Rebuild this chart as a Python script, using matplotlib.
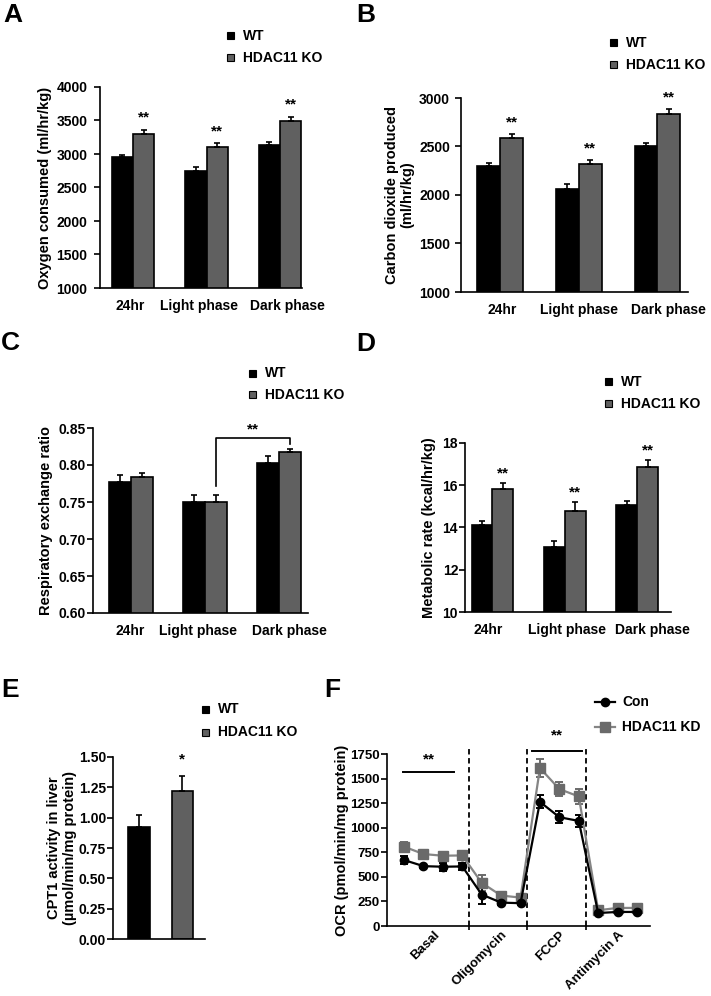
import matplotlib
matplotlib.use("Agg")
import matplotlib.pyplot as plt
import matplotlib.transforms as mtransforms
import numpy as np
from matplotlib.patches import Rectangle
from matplotlib.lines import Line2D

plt.rcParams['font.family'] = ['Liberation Sans', 'DejaVu Sans']
plt.rcParams['font.weight'] = 'bold'
plt.rcParams['axes.labelweight'] = 'bold'
plt.rcParams['axes.linewidth'] = 1.2

# ---- data ----
groups = ['24hr', 'Light phase', 'Dark phase']

o2_wt = [2950, 2750, 3132]
o2_wt_err = [35, 50, 40]
o2_ko = [3305, 3102, 3494]
o2_ko_err = [60, 55, 65]

co2_wt = [2296, 2065, 2502]
co2_wt_err = [34, 50, 38]
co2_ko = [2591, 2323, 2838]
co2_ko_err = [41, 41, 50]

rer_wt = [0.777, 0.750, 0.8025]
rer_wt_err = [0.010, 0.010, 0.010]
rer_ko = [0.784, 0.750, 0.817]
rer_ko_err = [0.005, 0.009, 0.005]

mr_wt = [14.11, 13.10, 15.06]
mr_wt_err = [0.19, 0.24, 0.19]
mr_ko = [15.83, 14.76, 16.87]
mr_ko_err = [0.30, 0.44, 0.32]

cpt1 = [0.925, 1.22]
cpt1_err = [0.10, 0.12]

ocr_steps = ['Basal', 'Oligomycin', 'FCCP', 'Antimycin A']
ocr_step_n = [4, 3, 3, 3]
ocr_con = [671, 609, 603, 606, 320, 238, 232, 1263, 1107, 1069, 132, 143, 143]
ocr_con_err = [40, 15, 40, 35, 100, 25, 20, 65, 60, 60, 15, 12, 12]
ocr_kd = [807, 732, 715, 718, 439, 310, 289, 1607, 1393, 1318, 160, 184, 184]
ocr_kd_err = [50, 30, 40, 35, 80, 25, 20, 95, 75, 80, 20, 15, 15]

WT_C = 'black'
KO_C = '#606060'
KD_LINE = '#858585'
KD_MARK = '#6a6a6a'

W, H = 711, 996
fig = plt.figure(figsize=(W / 100, H / 100), dpi=100)


def px_axes(x0, y0, x1, y1):
    return fig.add_axes([x0 / W, 1 - y1 / H, (x1 - x0) / W, (y1 - y0) / H])


def style(ax, ypad=2, ysize=10):
    for s in ['top', 'right']:
        ax.spines[s].set_visible(False)
    ax.tick_params(axis='y', direction='out', length=4, width=1.2, labelsize=ysize, pad=ypad)
    ax.tick_params(axis='x', length=0, labelsize=10, pad=8)


def shift_xlabels(ax, shifts_px):
    # nudge category labels sideways (the original spreads them apart)
    for lab, dx in zip(ax.get_xticklabels(), shifts_px):
        off = mtransforms.ScaledTranslation(dx / 100, 0, fig.dpi_scale_trans)
        lab.set_transform(lab.get_transform() + off)


def square_key(x, y, labels, colors, dy):
    for i, (lab, c) in enumerate(zip(labels, colors)):
        yy = y + i * dy
        fig.add_artist(Rectangle(((x - 3.5) / W, 1 - (yy + 3.5) / H), 7 / W, 7 / H,
                                 transform=fig.transFigure, facecolor=c,
                                 edgecolor='black', lw=0.8))
        fig.text((x + 13) / W, 1 - yy / H, lab, fontsize=10, va='center', ha='left')


def letter(x, y, s):
    fig.text(x / W, 1 - y / H, s, fontsize=19, fontweight='bold', va='center')


def bar_panel(ax, wt, wt_err, ko, ko_err, width, xlim, ylim, yticks, fmt, ylabel,
              labelpad, ypad, shifts):
    x = np.arange(len(wt))
    ek = dict(ecolor='black', elinewidth=1.2, capthick=1.2)
    ax.bar(x - width / 2, wt, width, color=WT_C, edgecolor='black', lw=1.2,
           yerr=[np.zeros(len(wt)), wt_err], capsize=2.5, error_kw=ek)
    ax.bar(x + width / 2, ko, width, color=KO_C, edgecolor='black', lw=1.2,
           yerr=[np.zeros(len(ko)), ko_err], capsize=2.5, error_kw=ek)
    ax.set_xlim(*xlim)
    ax.set_ylim(*ylim)
    ax.set_yticks(yticks)
    ax.set_yticklabels([fmt.format(v) for v in yticks])
    ax.set_xticks(x)
    ax.set_xticklabels(groups)
    ax.set_ylabel(ylabel, fontsize=10.5, labelpad=labelpad)
    style(ax, ypad=ypad)
    shift_xlabels(ax, shifts)
    return x


def stars(ax, xs, tops, off, txt='**'):
    for xx, t in zip(xs, tops):
        ax.text(xx, t + off, txt, ha='center', va='center', fontsize=11, fontweight='bold')


# ---- A ----
axA = px_axes(100, 87, 302, 288)
w = 0.29
x = bar_panel(axA, o2_wt, o2_wt_err, o2_ko, o2_ko_err, w, (-0.45, 2.30), (1000, 4000),
              [1000, 1500, 2000, 2500, 3000, 3500, 4000], '{:d}',
              'Oxygen consumed (ml/hr/kg)', 3, 5, [-3, -8, 7])
stars(axA, x + w / 2, np.add(o2_ko, o2_ko_err), 180)
square_key(230, 36, ['WT', 'HDAC11 KO'], [WT_C, KO_C], 22)
letter(3, 15, 'A')

# ---- B ----
axB = px_axes(461, 98, 688, 292)
w = 0.29
x = bar_panel(axB, co2_wt, co2_wt_err, co2_ko, co2_ko_err, w, (-0.50, 2.39), (1000, 3000),
              [1000, 1500, 2000, 2500, 3000], '{:d}', 'Carbon dioxide produced\n(ml/hr/kg)',
              3, 4, [2, 0, 11])
stars(axB, x + w / 2, np.add(co2_ko, co2_ko_err), 115)
square_key(613, 43, ['WT', 'HDAC11 KO'], [WT_C, KO_C], 22)
letter(356, 15, 'B')

# ---- C ----
axC = px_axes(93, 428, 308, 613)
w = 0.30
x = bar_panel(axC, rer_wt, rer_wt_err, rer_ko, rer_ko_err, w, (-0.51, 2.39), (0.60, 0.85),
              [0.60, 0.65, 0.70, 0.75, 0.80, 0.85], '{:.2f}', 'Respiratory exchange ratio',
              4, 1, [-1, -7, 10])
bx0, bx1 = x[1] + w / 2, x[2] + w / 2
axC.plot([bx0, bx0, bx1, bx1],
         [rer_ko[1] + rer_ko_err[1] + 0.013, 0.837, 0.837, rer_ko[2] + rer_ko_err[2] + 0.006],
         color='black', lw=1.2, clip_on=False)
axC.text((bx0 + bx1) / 2, 0.848, '**', ha='center', va='center', fontsize=11,
         fontweight='bold')
square_key(252, 373, ['WT', 'HDAC11 KO'], [WT_C, KO_C], 22)
letter(1, 343, 'C')

# ---- D ----
axD = px_axes(465, 443, 671, 612)
w = 0.29
x = bar_panel(axD, mr_wt, mr_wt_err, mr_ko, mr_ko_err, w, (-0.38, 2.47), (10, 18),
              [10, 12, 14, 16, 18], '{:d}', 'Metabolic rate (kcal/hr/kg)', 5, 1,
              [-4, 2, 15])
stars(axD, x + w / 2, np.add(mr_ko, mr_ko_err), 0.45)
square_key(608, 382, ['WT', 'HDAC11 KO'], [WT_C, KO_C], 22)
letter(356, 344, 'D')

# ---- E ----
axE = px_axes(113, 757, 205, 939)
xe = np.arange(2)
ek = dict(ecolor='black', elinewidth=1.2, capthick=1.2)
axE.bar(xe, cpt1, 0.49, color=[WT_C, KO_C], edgecolor='black', lw=1.2,
        yerr=[np.zeros(2), cpt1_err], capsize=2.5, error_kw=ek)
axE.set_xlim(-0.6, 1.52)
axE.set_ylim(0, 1.5)
ticksE = [0, 0.25, 0.5, 0.75, 1.0, 1.25, 1.5]
axE.set_yticks(ticksE)
axE.set_yticklabels(['{:.2f}'.format(v) for v in ticksE])
axE.set_xticks([])
axE.set_ylabel('CPT1 activity in liver\n(\u00b5mol/min/mg protein)', fontsize=10.5,
               labelpad=1)
style(axE, ypad=1)
axE.text(xe[1], cpt1[1] + cpt1_err[1] + 0.14, '*', ha='center', va='center', fontsize=11,
         fontweight='bold')
square_key(205, 709, ['WT', 'HDAC11 KO'], [WT_C, KO_C], 23)
letter(1, 690, 'E')

# ---- F ----
axF = px_axes(387, 754, 650, 926)
t = np.arange(1, len(ocr_con) + 1)
axF.errorbar(t, ocr_kd, yerr=ocr_kd_err, color=KD_LINE, lw=1.6, marker='s', ms=6.5,
             mfc=KD_MARK, mec=KD_MARK, ecolor=KD_MARK, elinewidth=1.4, capsize=3, capthick=1.4)
axF.errorbar(t, ocr_con, yerr=ocr_con_err, color='black', lw=1.6, marker='o', ms=6,
             ecolor='black', elinewidth=1.4, capsize=3, capthick=1.4)
bounds = np.cumsum(ocr_step_n)
starts = np.concatenate([[0], bounds[:-1]])
centers = [(t[s] + t[e - 1]) / 2 for s, e in zip(starts, bounds)]
dividers = [t[e - 1] + 0.35 for e in bounds[:-1]]
for d in dividers:
    axF.plot([d, d], [0, 1810], ls=(0, (3, 2)), color='black', lw=1.3, clip_on=False)
axF.set_xlim(0.12, 13.67)
axF.set_ylim(0, 1750)
ticksF = [0, 250, 500, 750, 1000, 1250, 1500, 1750]
axF.set_yticks(ticksF)
axF.set_xticks(dividers)
axF.set_xticklabels([])
axF.set_xticks(centers, minor=True)
axF.set_xticklabels(ocr_steps, minor=True, rotation=45, ha='right', rotation_mode='anchor',
                    fontsize=9.5)
style(axF, ypad=1, ysize=9.5)
axF.tick_params(axis='x', which='major', length=3, width=1.2, direction='out')
axF.tick_params(axis='x', which='minor', length=0, pad=2)
axF.set_ylabel('OCR (pmol/min/mg protein)', fontsize=10.5, labelpad=1)
# significance bars
axF.plot([0.95, 3.57], [1563, 1563], color='black', lw=1.4)
axF.text(2.26, 1690, '**', ha='center', va='center', fontsize=11, fontweight='bold')
axF.plot([7.59, 10.17], [1780, 1780], color='black', lw=1.4, clip_on=False)
axF.text(8.88, 1940, '**', ha='center', va='center', fontsize=11, fontweight='bold')
fig.add_artist(Line2D([595 / W, 615 / W], [1 - 702 / H, 1 - 702 / H], color='black', lw=1.6,
                      transform=fig.transFigure))
fig.add_artist(Line2D([605 / W], [1 - 702 / H], color='black', marker='o', ms=6,
                      transform=fig.transFigure))
fig.add_artist(Line2D([595 / W, 615 / W], [1 - 727 / H, 1 - 727 / H], color=KD_LINE, lw=1.6,
                      transform=fig.transFigure))
fig.add_artist(Line2D([605 / W], [1 - 727 / H], color=KD_MARK, marker='s', ms=6.5,
                      transform=fig.transFigure))
fig.text(622 / W, 1 - 702 / H, 'Con', fontsize=10, va='center')
fig.text(622 / W, 1 - 727 / H, 'HDAC11 KD', fontsize=10, va='center')
letter(324, 690, 'F')

fig.savefig('out.png', dpi=100)
